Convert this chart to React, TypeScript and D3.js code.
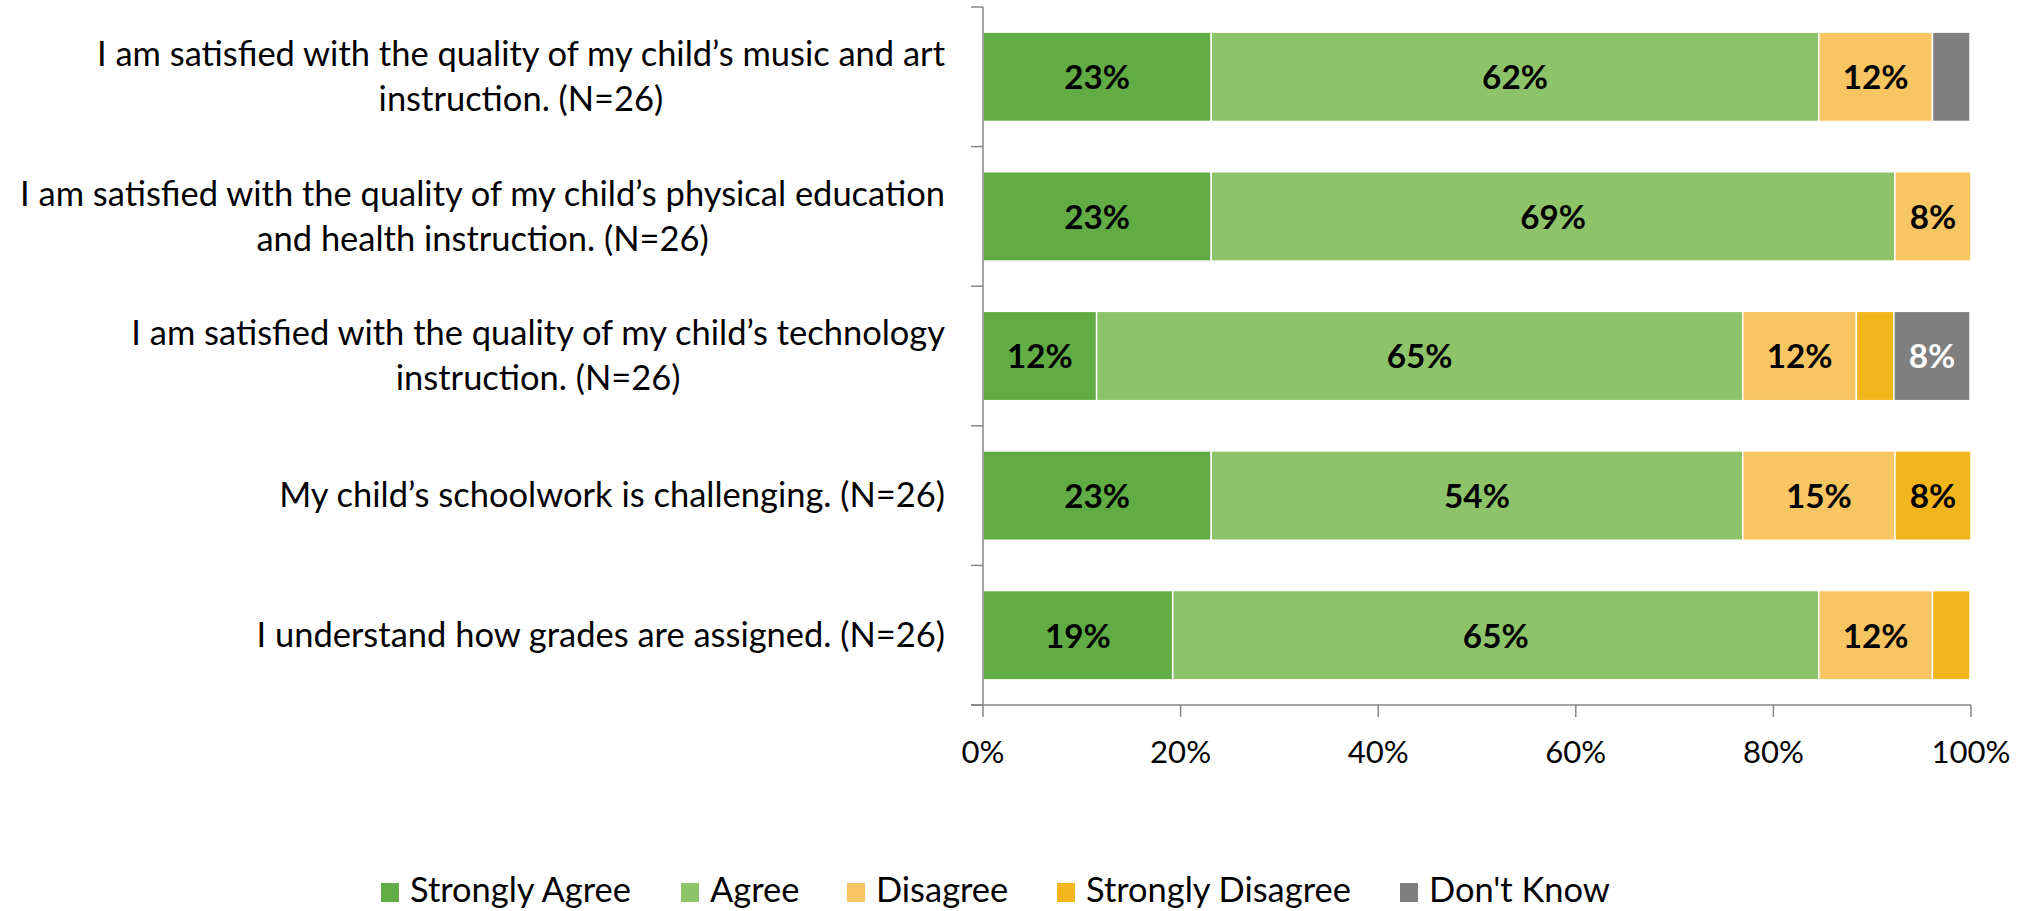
import React from "react";
import * as d3 from "d3";

const categories: string[][] = [
  ["I am satisfied with the quality of my child\u2019s music and art", "instruction. (N=26)"],
  ["I am satisfied with the quality of my child\u2019s physical education", "and health instruction. (N=26)"],
  ["I am satisfied with the quality of my child\u2019s technology", "instruction. (N=26)"],
  ["My child\u2019s schoolwork is challenging. (N=26)"],
  ["I understand how grades are assigned. (N=26)"],
];
const seriesNames = ["Strongly Agree", "Agree", "Disagree", "Strongly Disagree", "Don't Know"];
const seriesColors = ["#62AC46", "#8DC46A", "#F7C562", "#F2B51C", "#7F7F7F"];
const labelColors = ["#000000", "#000000", "#000000", "#000000", "#FFFFFF"];
const stronglyAgree = [23.1, 23.1, 11.5, 23.1, 19.2];
const agree = [61.5, 69.2, 65.4, 53.8, 65.4];
const disagree = [11.5, 7.7, 11.5, 15.4, 11.5];
const stronglyDisagree = [0, 0, 3.8, 7.7, 3.8];
const dontKnow = [3.8, 0, 7.7, 0, 0];
const xTicks = [0, 20, 40, 60, 80, 100];

const FONT = "Lato, Carlito, Calibri, sans-serif";
const BASE = 37;

export default function App() {
  const W = 2030, H = 911;
  const [sizes, setSizes] = React.useState<{ cat: number; leg: number; num: number } | null>(null);
  const m1 = React.useRef<SVGTextElement>(null);
  const m2 = React.useRef<SVGTextElement>(null);
  const m3 = React.useRef<SVGTextElement>(null);

  React.useLayoutEffect(() => {
    if (!sizes && m1.current && m2.current && m3.current) {
      const w1 = m1.current.getComputedTextLength();
      const w2 = m2.current.getComputedTextLength();
      const w3 = m3.current.getComputedTextLength();
      setSizes({ cat: BASE * (925 / w1), leg: BASE * (221 / w2), num: BASE * (79 / w3) });
    }
  }, [sizes]);

  const catFs = sizes ? sizes.cat : BASE;
  const legFs = sizes ? sizes.leg : BASE;
  const numFs = sizes ? sizes.num : BASE;
  const barFs = numFs * 1.07;

  const x = d3.scaleLinear().domain([0, 100]).range([983, 1971]);
  const y = d3.scaleBand<number>().domain(d3.range(categories.length)).range([7, 705]).paddingInner(0.36).paddingOuter(0.18);
  const band = d3.scaleBand<number>().domain(d3.range(categories.length)).range([7, 705]);
  const seriesValues = [stronglyAgree, agree, disagree, stronglyDisagree, dontKnow];
  const rows = categories.map((_, i) => {
    const r: any = { i };
    seriesValues.forEach((vals, si) => (r["s" + si] = vals[i]));
    return r;
  });
  const stack = d3.stack<any>().keys(seriesValues.map((_, si) => "s" + si))(rows);
  const axisColor = "#868686";
  const bounds = d3.range(categories.length + 1).map((k) => 7 + k * band.step());
  const legendX = [381, 681, 847, 1057, 1400];

  const [catX, setCatX] = React.useState<number[]>(categories.map(() => 600));
  const catRefs = React.useRef<(SVGTextElement | null)[]>([]);
  React.useLayoutEffect(() => {
    const xs = categories.map((_, i) => {
      const el = catRefs.current[i];
      if (!el) return 600;
      const spans = Array.from(el.querySelectorAll("tspan")) as SVGTSpanElement[];
      const maxW = Math.max(...spans.map((s) => s.getComputedTextLength()));
      return 945 - maxW / 2;
    });
    setCatX(xs);
  }, [catFs]);

  return (
    <svg width={W} height={H} style={{ position: "absolute", left: 0, top: 0, background: "#fff" }} fontFamily={FONT}>
      {!sizes && (
        <g>
          <text ref={m1} x={10} y={40} fontSize={BASE}>{categories[1][0]}</text>
          <text ref={m2} x={10} y={80} fontSize={BASE}>{seriesNames[0]}</text>
          <text ref={m3} x={10} y={120} fontSize={BASE}>100%</text>
        </g>
      )}
      {stack.map((layer, si) => (
        <g key={si}>
          {layer.map((seg, ri) => {
            const v = seriesValues[si][ri];
            if (v <= 0) return null;
            const x0 = x(seg[0]), x1 = x(seg[1]);
            const yy = y(ri)!;
            return (
              <g key={ri}>
                <rect x={x0} y={yy} width={x1 - x0} height={y.bandwidth()} fill={seriesColors[si]} stroke="#fff" strokeWidth={1.5} />
                {v >= 5 && sizes && (
                  <text x={(x0 + x1) / 2} y={yy + y.bandwidth() / 2 + barFs * 0.37} textAnchor="middle" fontWeight="bold" fontSize={barFs} fill={labelColors[si]}>
                    {Math.round(v)}%
                  </text>
                )}
              </g>
            );
          })}
        </g>
      ))}
      <line x1={983} x2={983} y1={7} y2={705} stroke={axisColor} strokeWidth={1.5} />
      {bounds.map((b, k) => (
        <line key={k} x1={971} x2={983} y1={b} y2={b} stroke={axisColor} strokeWidth={1.5} />
      ))}
      <line x1={971} x2={1971} y1={705} y2={705} stroke={axisColor} strokeWidth={1.5} />
      {xTicks.map((t) => (
        <g key={t}>
          <line x1={x(t)} x2={x(t)} y1={705} y2={717} stroke={axisColor} strokeWidth={1.5} />
          {sizes && <text x={x(t)} y={763} textAnchor="middle" fontSize={numFs} fill="#000">{t}%</text>}
        </g>
      ))}
      {sizes && categories.map((lines, i) => {
        const cy = band(i)! + band.step() / 2;
        const lh = 45;
        return (
          <text key={i} ref={(el) => { catRefs.current[i] = el; }} textAnchor="middle" fontSize={catFs} fill="#000">
            {lines.map((ln, k) => (
              <tspan key={k} x={catX[i]} y={cy + (k - (lines.length - 1) / 2) * lh + catFs * 0.34}>{ln}</tspan>
            ))}
          </text>
        );
      })}
      {sizes && seriesNames.map((n, si) => (
        <g key={si}>
          <rect x={legendX[si]} y={883} width={18} height={19} fill={seriesColors[si]} />
          <text x={legendX[si] + 29} y={902} fontSize={legFs} fill="#000">{n}</text>
        </g>
      ))}
    </svg>
  );
}
